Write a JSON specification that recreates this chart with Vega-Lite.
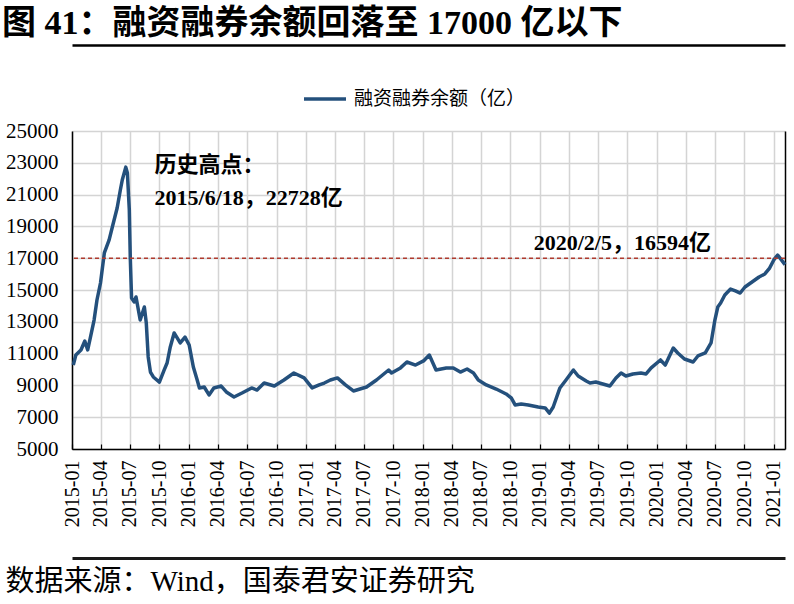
{
  "$schema": "https://vega.github.io/schema/vega-lite/v6.json",
  "autosize": "none",
  "width": 713,
  "height": 318,
  "padding": {"left": 72, "top": 131, "right": 9, "bottom": 155},
  "background": "white",
  "title": {
    "text": "图 41：融资融券余额回落至 17000 亿以下",
    "anchor": "start",
    "frame": "bounds",
    "font": "Liberation Serif, Noto Sans CJK SC",
    "fontSize": 34,
    "fontWeight": "bold",
    "color": "black",
    "offset": 4,
    "dx": -3
  },
  "config": {
    "view": {"stroke": null},
    "axis": {
      "labelFont": "Liberation Serif",
      "labelColor": "black"
    }
  },
  "datasets": {
    "margin": [
      {"date": "2015-01-05", "value": 10280},
      {"date": "2015-01-13", "value": 10910},
      {"date": "2015-01-29", "value": 11230},
      {"date": "2015-02-10", "value": 11790},
      {"date": "2015-02-19", "value": 11230},
      {"date": "2015-02-27", "value": 11980},
      {"date": "2015-03-11", "value": 13110},
      {"date": "2015-03-20", "value": 14370},
      {"date": "2015-03-31", "value": 15440},
      {"date": "2015-04-12", "value": 17330},
      {"date": "2015-04-27", "value": 18150},
      {"date": "2015-05-07", "value": 18960},
      {"date": "2015-05-22", "value": 20160},
      {"date": "2015-06-01", "value": 21290},
      {"date": "2015-06-07", "value": 21920},
      {"date": "2015-06-18", "value": 22728},
      {"date": "2015-06-23", "value": 22360},
      {"date": "2015-06-29", "value": 20030},
      {"date": "2015-07-02", "value": 17080},
      {"date": "2015-07-06", "value": 14500},
      {"date": "2015-07-14", "value": 14250},
      {"date": "2015-07-20", "value": 14560},
      {"date": "2015-08-02", "value": 13110},
      {"date": "2015-08-15", "value": 13930},
      {"date": "2015-08-21", "value": 12930},
      {"date": "2015-08-27", "value": 10790},
      {"date": "2015-09-03", "value": 9840},
      {"date": "2015-09-12", "value": 9530},
      {"date": "2015-10-01", "value": 9210},
      {"date": "2015-10-16", "value": 9970},
      {"date": "2015-10-25", "value": 10410},
      {"date": "2015-11-04", "value": 11420},
      {"date": "2015-11-16", "value": 12300},
      {"date": "2015-12-05", "value": 11670},
      {"date": "2015-12-20", "value": 12040},
      {"date": "2016-01-02", "value": 11540},
      {"date": "2016-01-15", "value": 10160},
      {"date": "2016-01-27", "value": 9340},
      {"date": "2016-02-03", "value": 8840},
      {"date": "2016-02-18", "value": 8900},
      {"date": "2016-03-04", "value": 8400},
      {"date": "2016-03-19", "value": 8840},
      {"date": "2016-04-11", "value": 8960},
      {"date": "2016-04-27", "value": 8590},
      {"date": "2016-05-21", "value": 8270},
      {"date": "2016-06-15", "value": 8520},
      {"date": "2016-07-15", "value": 8840},
      {"date": "2016-08-01", "value": 8710},
      {"date": "2016-08-23", "value": 9150},
      {"date": "2016-09-24", "value": 8960},
      {"date": "2016-10-24", "value": 9340},
      {"date": "2016-11-24", "value": 9780},
      {"date": "2016-12-26", "value": 9470},
      {"date": "2017-01-20", "value": 8840},
      {"date": "2017-02-11", "value": 9030},
      {"date": "2017-02-27", "value": 9150},
      {"date": "2017-03-18", "value": 9340},
      {"date": "2017-04-09", "value": 9470},
      {"date": "2017-05-04", "value": 9030},
      {"date": "2017-05-29", "value": 8650},
      {"date": "2017-07-09", "value": 8900},
      {"date": "2017-08-09", "value": 9340},
      {"date": "2017-09-16", "value": 9970},
      {"date": "2017-09-25", "value": 9780},
      {"date": "2017-10-23", "value": 10100},
      {"date": "2017-11-12", "value": 10470},
      {"date": "2017-12-09", "value": 10280},
      {"date": "2018-01-03", "value": 10540},
      {"date": "2018-01-21", "value": 10910},
      {"date": "2018-02-11", "value": 9970},
      {"date": "2018-03-15", "value": 10100},
      {"date": "2018-04-06", "value": 10100},
      {"date": "2018-04-28", "value": 9840},
      {"date": "2018-05-19", "value": 10030},
      {"date": "2018-06-08", "value": 9780},
      {"date": "2018-06-23", "value": 9340},
      {"date": "2018-07-18", "value": 9030},
      {"date": "2018-08-18", "value": 8770},
      {"date": "2018-09-18", "value": 8460},
      {"date": "2018-10-04", "value": 8210},
      {"date": "2018-10-16", "value": 7770},
      {"date": "2018-11-04", "value": 7830},
      {"date": "2018-11-26", "value": 7770},
      {"date": "2018-12-27", "value": 7640},
      {"date": "2019-01-18", "value": 7580},
      {"date": "2019-01-31", "value": 7260},
      {"date": "2019-02-12", "value": 7640},
      {"date": "2019-03-05", "value": 8840},
      {"date": "2019-03-24", "value": 9340},
      {"date": "2019-04-16", "value": 9970},
      {"date": "2019-05-01", "value": 9590},
      {"date": "2019-05-26", "value": 9280},
      {"date": "2019-06-07", "value": 9150},
      {"date": "2019-06-25", "value": 9210},
      {"date": "2019-07-17", "value": 9090},
      {"date": "2019-08-08", "value": 8960},
      {"date": "2019-08-27", "value": 9470},
      {"date": "2019-09-12", "value": 9780},
      {"date": "2019-09-27", "value": 9590},
      {"date": "2019-10-19", "value": 9720},
      {"date": "2019-11-13", "value": 9780},
      {"date": "2019-11-29", "value": 9720},
      {"date": "2019-12-15", "value": 10100},
      {"date": "2020-01-13", "value": 10600},
      {"date": "2020-01-28", "value": 10280},
      {"date": "2020-02-22", "value": 11350},
      {"date": "2020-03-07", "value": 11040},
      {"date": "2020-03-28", "value": 10660},
      {"date": "2020-04-24", "value": 10470},
      {"date": "2020-05-09", "value": 10850},
      {"date": "2020-06-01", "value": 11040},
      {"date": "2020-06-19", "value": 11670},
      {"date": "2020-07-01", "value": 13110},
      {"date": "2020-07-10", "value": 13930},
      {"date": "2020-07-19", "value": 14180},
      {"date": "2020-08-01", "value": 14690},
      {"date": "2020-08-19", "value": 15060},
      {"date": "2020-09-03", "value": 14940},
      {"date": "2020-09-18", "value": 14810},
      {"date": "2020-10-03", "value": 15190},
      {"date": "2020-10-25", "value": 15500},
      {"date": "2020-11-16", "value": 15820},
      {"date": "2020-12-04", "value": 16010},
      {"date": "2020-12-19", "value": 16380},
      {"date": "2021-01-01", "value": 16890},
      {"date": "2021-01-13", "value": 17200},
      {"date": "2021-02-05", "value": 16594}
    ],
    "peakNote": [
      {"date": "2015-09-16", "value": 22860, "label": "历史高点："},
      {"date": "2015-09-16", "value": 20790, "label": "2015/6/18，22728亿"}
    ],
    "lastNote": [
      {"date": "2018-12-13", "value": 17960, "label": "2020/2/5，16594亿"}
    ],
    "threshold": [
      {"value": 17000}
    ]
  },
  "layer": [
    {
      "data": {"name": "margin"},
      "mark": {"type": "line", "strokeWidth": 3.5, "strokeJoin": "round"},
      "encoding": {
        "x": {
          "field": "date",
          "type": "temporal",
          "scale": {"domain": [{"year": 2015, "month": 1, "date": 1}, {"year": 2021, "month": 2, "date": 5}]},
          "axis": {
            "title": null,
            "format": "%Y-%m",
            "tickCount": {"interval": "month", "step": 3},
            "labelAngle": -90,
            "labelFontSize": 20,
            "labelPadding": 16,
            "ticks": true,
            "tickSize": -5,
            "tickColor": "black",
            "tickWidth": 1.2,
            "domainColor": "black",
            "domainWidth": 1.5,
            "grid": true,
            "gridColor": "#d4d4d4",
            "gridWidth": 1.5,
            "gridOpacity": 1,
            "labelFlush": false,
            "labelOverlap": false
          }
        },
        "y": {
          "field": "value",
          "type": "quantitative",
          "scale": {"domain": [5000, 25000], "nice": false, "zero": false},
          "axis": {
            "title": null,
            "values": [5000, 7000, 9000, 11000, 13000, 15000, 17000, 19000, 21000, 23000, 25000],
            "format": "d",
            "labelFontSize": 21,
            "labelPadding": 14,
            "ticks": false,
            "domainColor": "black",
            "domainWidth": 1.5,
            "grid": true,
            "gridColor": "#d4d4d4",
            "gridWidth": 1.5,
            "gridOpacity": 1
          }
        },
        "color": {
          "datum": "融资融券余额（亿）",
          "scale": {"range": ["#24507c"]},
          "legend": {
            "title": null,
            "orient": "none",
            "legendX": 230,
            "legendY": -55,
            "symbolType": "stroke",
            "symbolSize": 1764,
            "symbolStrokeWidth": 3.5,
            "labelFont": "Noto Sans CJK SC",
            "labelFontSize": 19,
            "labelLimit": 400,
            "labelColor": "black",
            "labelOffset": 6
          }
        }
      }
    },
    {
      "data": {"name": "threshold"},
      "mark": {"type": "rule", "color": "#b03a2e", "strokeWidth": 1.5, "strokeDash": [4, 3]},
      "encoding": {
        "y": {
          "field": "value",
          "type": "quantitative",
          "scale": {"domain": [5000, 25000], "nice": false, "zero": false},
          "axis": null
        }
      }
    },
    {
      "data": {"name": "peakNote"},
      "mark": {
        "type": "text",
        "align": "left",
        "baseline": "middle",
        "font": "Liberation Serif, Noto Sans CJK SC",
        "fontSize": 22,
        "fontWeight": "bold",
        "color": "black"
      },
      "encoding": {
        "x": {
          "field": "date",
          "type": "temporal",
          "scale": {"domain": [{"year": 2015, "month": 1, "date": 1}, {"year": 2021, "month": 2, "date": 5}]},
          "axis": {
            "orient": "top",
            "offset": 86,
            "title": null,
            "labels": false,
            "ticks": false,
            "grid": false,
            "domainColor": "black",
            "domainWidth": 2.5
          }
        },
        "y": {
          "field": "value",
          "type": "quantitative",
          "scale": {"domain": [5000, 25000], "nice": false, "zero": false},
          "axis": {
            "orient": "right",
            "title": null,
            "labels": false,
            "ticks": false,
            "grid": false,
            "domainColor": "black",
            "domainWidth": 1.5
          }
        },
        "text": {"field": "label"}
      }
    },
    {
      "data": {"name": "lastNote"},
      "mark": {
        "type": "text",
        "align": "left",
        "baseline": "middle",
        "font": "Liberation Serif, Noto Sans CJK SC",
        "fontSize": 22,
        "fontWeight": "bold",
        "color": "black"
      },
      "encoding": {
        "x": {
          "field": "date",
          "type": "temporal",
          "scale": {"domain": [{"year": 2015, "month": 1, "date": 1}, {"year": 2021, "month": 2, "date": 5}]},
          "axis": {
            "orient": "bottom",
            "offset": 109,
            "title": "数据来源：Wind，国泰君安证券研究",
            "titleFont": "Liberation Serif, Noto Sans CJK SC",
            "titleFontSize": 29,
            "titleFontWeight": "normal",
            "titleColor": "black",
            "titleAnchor": "start",
            "titleAlign": "left",
            "titleX": -67,
            "titlePadding": 9,
            "labels": false,
            "ticks": false,
            "grid": false,
            "domain": true,
            "domainColor": "#1a1a1a",
            "domainWidth": 3
          }
        },
        "y": {
          "field": "value",
          "type": "quantitative",
          "scale": {"domain": [5000, 25000], "nice": false, "zero": false},
          "axis": null
        },
        "text": {"field": "label"}
      }
    }
  ],
  "resolve": {
    "scale": {"x": "independent", "y": "independent"},
    "axis": {"x": "independent", "y": "independent"}
  }
}
